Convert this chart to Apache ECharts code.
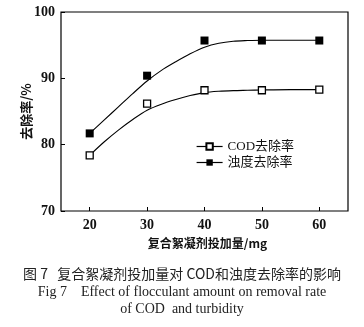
<!DOCTYPE html>
<html><head><meta charset="utf-8">
<script src="https://cdn.jsdelivr.net/npm/echarts@6/dist/echarts.min.js"></script>
<style>html,body{margin:0;padding:0;background:#fff;}#c{width:364px;height:327px;}</style>
</head><body><div id="c"></div>
<script>
const doses = [20, 30, 40, 50, 60];
const codRemoval = [78.4, 86.2, 88.2, 88.2, 88.3];
const turbidityRemoval = [81.7, 90.4, 95.7, 95.7, 95.7];
const curveDoses = [20, 22.5, 25, 27.5, 30, 32.5, 35, 37.5, 40, 42.5, 45, 47.5, 50, 55, 60];
const codCurve = [78.4, 80.4, 82.2, 83.8, 85.2, 86.1, 86.8, 87.4, 87.85, 88.05, 88.15, 88.2, 88.25, 88.3, 88.3];
const turbidityCurve = [81.7, 83.7, 85.7, 87.7, 89.6, 91.2, 92.5, 93.7, 94.7, 95.3, 95.6, 95.7, 95.75, 95.75, 95.75];
const xTicks = [20, 30, 40, 50, 60];
const yTicks = [70, 80, 90, 100];

const serif = '"Liberation Serif", "Times New Roman", serif';
const cjk = '"Noto Sans CJK SC", sans-serif';
const pair = (xs, ys) => xs.map((x, i) => [x, ys[i]]);

const chart = echarts.init(document.getElementById('c'), null, {renderer: 'canvas'});
chart.setOption({
  animation: false,
  backgroundColor: '#fff',
  grid: {left: 61, top: 12, right: 16, bottom: 116, show: true, borderColor: '#000', borderWidth: 1.2},
  title: [
    {text: '图 7   复合絮凝剂投加量对 COD和浊度去除率的影响', left: 'center', top: 262,
     textStyle: {fontFamily: cjk, fontSize: 14, fontWeight: 'normal', color: '#222'}},
    {text: 'Fig 7    Effect of flocculant amount on removal rate', left: 'center', top: 280,
     textStyle: {fontFamily: serif, fontSize: 14, fontWeight: 'normal', color: '#222'}},
    {text: 'of COD  and turbidity', left: 'center', top: 297,
     textStyle: {fontFamily: serif, fontSize: 14, fontWeight: 'normal', color: '#222'}}
  ],
  legend: {
    orient: 'vertical', left: 191, top: 135, itemWidth: 26, itemHeight: 8, itemGap: 3,
    textStyle: {fontFamily: serif + ',' + cjk, fontSize: 13, color: '#111'},
    data: [
      {name: 'COD去除率', lineStyle: {opacity: 1, width: 1.2, color: '#000'}},
      {name: '浊度去除率', lineStyle: {opacity: 1, width: 1.2, color: '#000'}}
    ]
  },
  xAxis: {
    type: 'value', min: 15, max: 65,
    name: '复合絮凝剂投加量/mg', nameLocation: 'middle', nameGap: 26, nameMoveOverlap: false,
    nameTextStyle: {fontFamily: cjk, fontSize: 12, fontWeight: 'bold', color: '#111', padding: [0, 0, 0, 6]},
    axisLine: {show: false},
    splitLine: {show: false},
    axisTick: {show: true, inside: true, length: 4, customValues: xTicks, lineStyle: {color: '#000'}},
    axisLabel: {customValues: xTicks, margin: 7, fontFamily: serif, fontSize: 14, fontWeight: 'bold', color: '#111'}
  },
  yAxis: {
    type: 'value', min: 70, max: 100, interval: 10,
    name: '去除率/%', nameLocation: 'middle', nameGap: 28, nameMoveOverlap: false,
    nameTextStyle: {fontFamily: cjk, fontSize: 13, fontWeight: 'bold', color: '#111'},
    axisLine: {show: false},
    splitLine: {show: false},
    axisTick: {show: true, inside: true, length: 4, lineStyle: {color: '#000'}},
    axisLabel: {margin: 6, fontFamily: serif, fontSize: 14, fontWeight: 'bold', color: '#111',
      customValues: yTicks}
  },
  series: [
    {name: 'COD拟合', type: 'line', data: pair(curveDoses, codCurve), smooth: 0.3, symbol: 'none',
     lineStyle: {color: '#000', width: 1.1}, z: 2},
    {name: '浊度拟合', type: 'line', data: pair(curveDoses, turbidityCurve), smooth: 0.3, symbol: 'none',
     lineStyle: {color: '#000', width: 1.1}, z: 2},
    {name: 'COD去除率', type: 'line', data: pair(doses, codRemoval), symbol: 'rect', symbolSize: 7,
     itemStyle: {color: '#fff', borderColor: '#000', borderWidth: 1.3},
     lineStyle: {opacity: 0, color: '#000'}, z: 5},
    {name: '浊度去除率', type: 'line', data: pair(doses, turbidityRemoval), symbol: 'rect', symbolSize: 8,
     itemStyle: {color: '#000', borderColor: '#000', borderWidth: 0},
     lineStyle: {opacity: 0, color: '#000'}, z: 5}
  ]
});
</script></body></html>
